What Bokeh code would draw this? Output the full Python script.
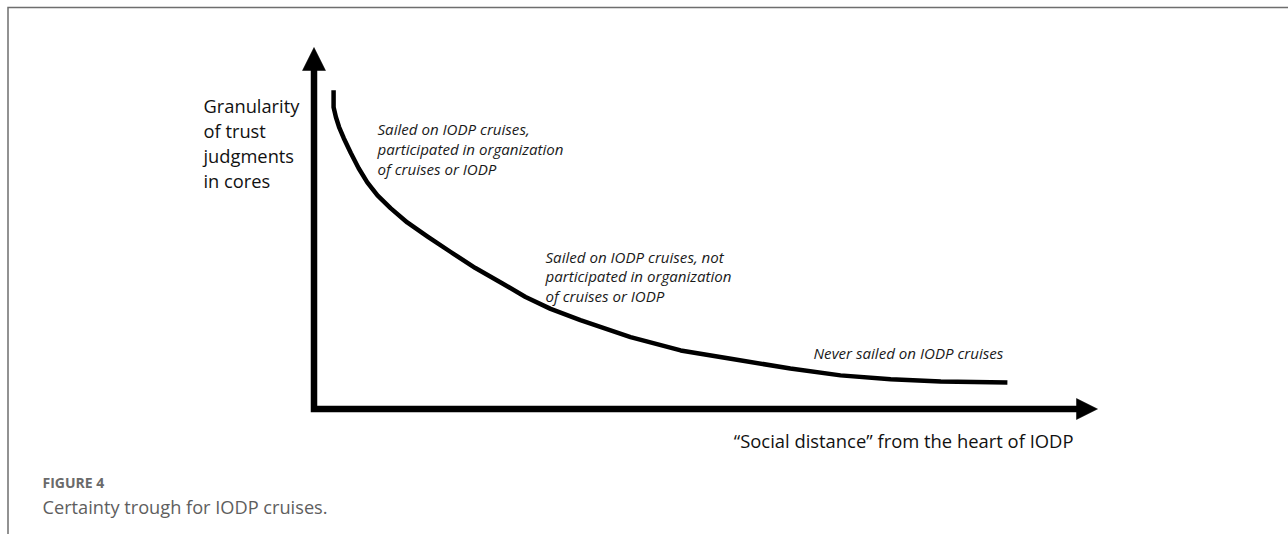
from bokeh.plotting import figure
from bokeh.models import Range1d, Label, Arrow, NormalHead
from bokeh.embed import file_html
from bokeh.resources import INLINE

# ---- data (conceptual units, 0-100 on each axis) ----
social_distance = [2.5, 2.5, 2.8, 3.2, 3.8, 4.7, 5.7, 6.8, 8.1, 9.8, 11.9, 14.5,
                   17.4, 20.6, 24.0, 27.0, 30.2, 34.0, 40.4, 46.8, 53.2, 60.8,
                   67.2, 73.6, 80.0, 88.5]
granularity = [88.2, 83.5, 80.7, 78.0, 74.9, 70.8, 66.6, 62.7, 59.1, 55.5, 51.6, 47.7,
               43.5, 39.0, 34.8, 31.0, 27.7, 24.6, 19.9, 16.2, 13.9, 11.2,
               9.3, 8.2, 7.6, 7.3]

y_label_lines = ["Granularity", "of trust", "judgments", "in cores"]
x_label = "\u201cSocial distance\u201d from the heart of IODP"
group_labels = [
    ["Sailed on IODP cruises,", "participated in organization", "of cruises or IODP"],
    ["Sailed on IODP cruises, not", "participated in organization", "of cruises or IODP"],
    ["Never sailed on IODP cruises"],
]
caption_title = "FIGURE 4"
caption_text = "Certainty trough for IODP cruises."

# ---- page geometry (page pixels) ----
W, H = 1288, 534
OX, OY = 313.5, 408.5          # origin of the conceptual axes
X_TIP, Y_TIP = 1097, 47        # arrow tips (value 100)
SX = (X_TIP - OX) / 100.0
SY = (OY - Y_TIP) / 100.0


def px2x(px):
    return (px - OX) / SX


def py2y(py):
    return (OY - py) / SY


p = figure(width=W, height=H, output_backend="svg", toolbar_location=None,
           x_range=Range1d(px2x(0), px2x(W)), y_range=Range1d(py2y(H), py2y(0)),
           min_border=0, outline_line_color=None)
p.axis.visible = False
p.grid.visible = False
p.background_fill_color = "white"
p.border_fill_color = "white"

# frame border (top and left)
p.line([px2x(7.5), px2x(7.5), px2x(W + 2)], [py2y(H + 2), py2y(7), py2y(7)],
       line_color="#6e6e6e", line_width=1.5, line_join="miter")

# axes shafts
head_v, head_h = 23, 21
p.line([0, 0, px2x(X_TIP - head_h + 1)], [py2y(Y_TIP + head_v - 1), 0, 0],
       line_color="black", line_width=6.5, line_join="miter")
p.add_layout(Arrow(end=NormalHead(size=head_v, fill_color="black", line_color="black", line_width=0.5),
                   x_start=0, y_start=py2y(Y_TIP + head_v), x_end=0, y_end=100,
                   line_alpha=0))
p.add_layout(Arrow(end=NormalHead(size=head_h, fill_color="black", line_color="black", line_width=0.5),
                   x_start=px2x(X_TIP - head_h), y_start=0, x_end=100, y_end=0,
                   line_alpha=0))

# curve
p.line(social_distance, granularity, line_color="black", line_width=4.5,
       line_cap="butt", line_join="round")

FONT = "Open Sans"

# y-axis label
for i, t in enumerate(y_label_lines):
    p.add_layout(Label(x=px2x(203), y=py2y(105 + 25 * i), text=t, text_font=FONT,
                       text_font_size="18.3px", text_color="#111111", text_baseline="alphabetic"))

# x-axis label
p.add_layout(Label(x=px2x(1073), y=py2y(440), text=x_label, text_font=FONT, text_align="right",
                   text_font_size="18.4px", text_color="#111111", text_baseline="alphabetic"))

# group labels
label_pos = [(377, 128, 20), (545, 256, 19.5), (813, 352, 20)]
for (lx, ly, dy), lines in zip(label_pos, group_labels):
    for i, t in enumerate(lines):
        p.add_layout(Label(x=px2x(lx), y=py2y(ly + dy * i), text=t, text_font=FONT,
                           text_font_style="italic", text_font_size="15.1px",
                           text_color="#1a1a1a", text_baseline="alphabetic"))

# caption
p.add_layout(Label(x=px2x(42), y=py2y(482), text=caption_title, text_font=FONT,
                   text_font_style="bold", text_font_size="14px", text_color="#6a6a6a",
                   text_baseline="alphabetic"))
p.add_layout(Label(x=px2x(42), y=py2y(506), text=caption_text, text_font=FONT,
                   text_font_size="18.2px", text_color="#5e5e5e", text_baseline="alphabetic"))

open("out.html", "w").write(file_html(p, INLINE))
